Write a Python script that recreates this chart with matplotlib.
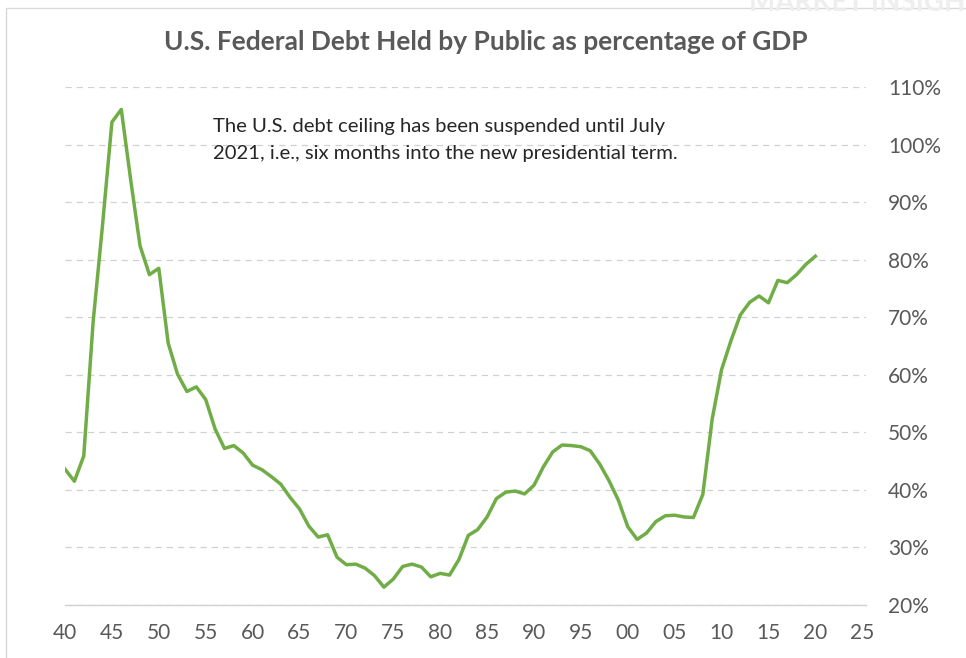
#!/usr/bin/env python3

import matplotlib
matplotlib.use('Agg')
import matplotlib.pyplot as plt
from matplotlib.patches import Rectangle

# federal debt held by the public, % of GDP (fiscal years 1940-2020)
years = list(range(1940, 2021))
debt_pct = [
    43.6, 41.5, 45.9, 69.2, 86.0, 103.9, 106.1, 93.9, 82.4, 77.4,   # 1940s
    78.5, 65.5, 60.1, 57.1, 57.9, 55.7, 50.6, 47.2, 47.7, 46.4,     # 1950s
    44.3, 43.5, 42.3, 41.0, 38.7, 36.7, 33.7, 31.8, 32.2, 28.3,     # 1960s
    27.0, 27.1, 26.4, 25.1, 23.1, 24.5, 26.7, 27.1, 26.6, 24.9,     # 1970s
    25.5, 25.2, 27.9, 32.1, 33.1, 35.3, 38.5, 39.6, 39.8, 39.3,     # 1980s
    40.8, 44.0, 46.6, 47.8, 47.7, 47.5, 46.8, 44.5, 41.6, 38.2,     # 1990s
    33.6, 31.4, 32.5, 34.5, 35.5, 35.6, 35.3, 35.2, 39.2, 52.3,     # 2000s
    60.9, 65.9, 70.4, 72.6, 73.7, 72.5, 76.4, 76.0, 77.4, 79.2,     # 2010s
    80.6,
]
x_ticks = list(range(1940, 2026, 5))
x_labels = ['%02d' % (y % 100) for y in x_ticks]
y_ticks = list(range(20, 111, 10))
y_labels = ['%d%%' % v for v in y_ticks]

title = 'U.S. Federal Debt Held by Public as percentage of GDP'
note = ('The U.S. debt ceiling has been suspended until July\n'
        '2021, i.e., six months into the new presidential term.')

plt.rcParams['font.family'] = ['Lato', 'DejaVu Sans']

W, H = 966, 658
fig = plt.figure(figsize=(W / 100, H / 100), dpi=100)
ax = fig.add_axes([65 / W, 1 - 605 / H, (866 - 65) / W, (605 - 87) / H])

ax.plot(years, debt_pct, color='#70ad47', lw=2.5, solid_joinstyle='round', zorder=3)

ax.set_xlim(1940, 2025.4)
ax.set_ylim(20, 110)
ax.set_xticks(x_ticks)
ax.set_xticklabels(x_labels)
ax.set_yticks(y_ticks)
ax.set_yticklabels(y_labels)
ax.yaxis.tick_right()
ax.tick_params(axis='both', length=0, labelsize=15, labelcolor='#595959')
ax.tick_params(axis='x', pad=13)
ax.tick_params(axis='y', pad=16)
for lab in ax.get_yticklabels():
    lab.set_horizontalalignment('left')

ax.grid(axis='y', color='#d0d0d0', lw=0.9, linestyle=(0, (5, 4)))
for s in ('top', 'left', 'right'):
    ax.spines[s].set_visible(False)
ax.spines['bottom'].set_color('#d0d0d0')
ax.spines['bottom'].set_linewidth(1.0)

fig.text(486 / W, 1 - 42 / H, title, ha='center', va='center',
         fontsize=19, fontweight='bold', color='#595959')
fig.text(213 / W, 1 - 140 / H, note, ha='left', va='center',
         fontsize=14.6, color='#262626', linespacing=1.75)

# faint watermark (cut by the top edge, as in the source) and outer frame
fig.text(0.775, 1 - 3 / H, 'MARKET INSIGHTS', ha='left', va='center',
         fontsize=20, fontweight='bold', color='#eeeeee')
fig.patches.append(Rectangle((6 / W, -0.1), 1.2, 1 - 8 / H + 0.1,
                             transform=fig.transFigure, fill=False,
                             edgecolor='#d9d9d9', lw=1.0))

fig.savefig('out.png', dpi=100)
